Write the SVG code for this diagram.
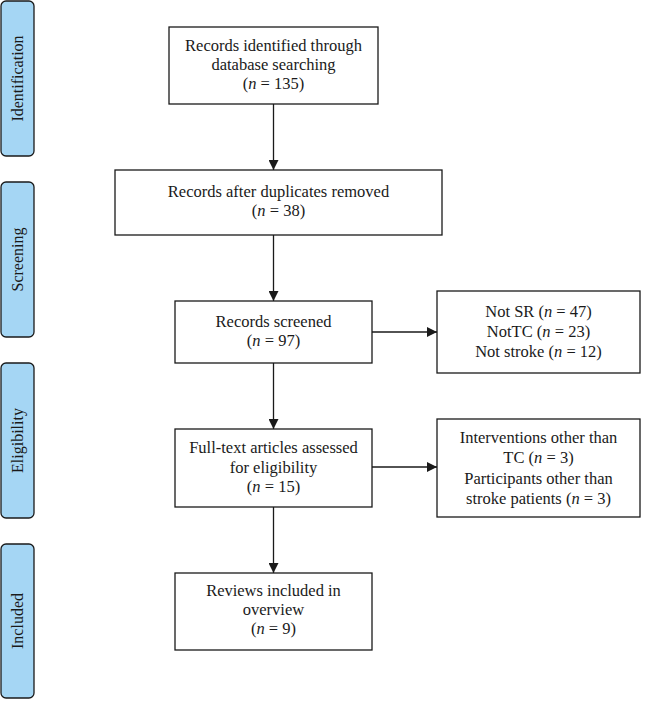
<svg xmlns="http://www.w3.org/2000/svg" width="656" height="702" viewBox="0 0 656 702">
<defs>
<style>
.side{fill:#a5d6f4;stroke:#1a1a1a;stroke-width:1.3}
.box{fill:#fff;stroke:#1a1a1a;stroke-width:1.3}
.t{font-family:"Liberation Serif","Times New Roman",serif;font-size:16.5px;fill:#1a1a1a;text-anchor:middle}
.s{font-family:"Liberation Serif","Times New Roman",serif;font-size:16px;fill:#1a1a1a;text-anchor:middle}
.c{stroke:#1a1a1a;stroke-width:1.3;fill:none;marker-end:url(#ah)}
</style>
<marker id="ah" markerWidth="10" markerHeight="10" refX="10" refY="5" orient="auto" markerUnits="userSpaceOnUse">
<path d="M0,0 L10,5 L0,10 Z" fill="#1a1a1a"/>
</marker>
</defs>
<rect width="656" height="702" fill="#fff"/>
<g id="phase-identification"><rect class="side" x="1" y="1" width="33" height="155" rx="5"/><text class="s" transform="translate(23,78.5) rotate(-90)">Identification</text></g>
<g id="phase-screening"><rect class="side" x="1" y="182" width="33" height="155" rx="5"/><text class="s" transform="translate(23,259.5) rotate(-90)">Screening</text></g>
<g id="phase-eligibility"><rect class="side" x="1" y="363" width="33" height="155" rx="5"/><text class="s" transform="translate(23,440.5) rotate(-90)">Eligibility</text></g>
<g id="phase-included"><rect class="side" x="1" y="544" width="33" height="154" rx="5"/><text class="s" transform="translate(23,621) rotate(-90)">Included</text></g>

<g id="connectors">
<line class="c" x1="273.5" y1="104" x2="273.5" y2="170"/>
<line class="c" x1="273.5" y1="235" x2="273.5" y2="301"/>
<line class="c" x1="273.5" y1="363" x2="273.5" y2="429"/>
<line class="c" x1="273.5" y1="507" x2="273.5" y2="573"/>
<line class="c" x1="372" y1="332" x2="437" y2="332"/>
<line class="c" x1="372" y1="467" x2="437" y2="467"/>
</g>

<g id="n1"><rect class="box" x="169" y="27" width="209" height="77"/>
<text class="t" x="273.5" y="51">Records identified through</text>
<text class="t" x="273.5" y="70">database searching</text>
<text class="t" x="273.5" y="89">(<tspan font-style="italic">n</tspan> = 135)</text></g>

<g id="n2"><rect class="box" x="115" y="170" width="327" height="65"/>
<text class="t" x="278.5" y="197">Records after duplicates removed</text>
<text class="t" x="278.5" y="216">(<tspan font-style="italic">n</tspan> = 38)</text></g>

<g id="n3"><rect class="box" x="175" y="301" width="197" height="62"/>
<text class="t" x="273.5" y="327">Records screened</text>
<text class="t" x="273.5" y="346">(<tspan font-style="italic">n</tspan> = 97)</text></g>

<g id="x1"><rect class="box" x="437" y="291" width="203" height="82"/>
<text class="t" x="538.5" y="317">Not SR (<tspan font-style="italic">n</tspan> = 47)</text>
<text class="t" x="538.5" y="337">NotTC (<tspan font-style="italic">n</tspan> = 23)</text>
<text class="t" x="538.5" y="357">Not stroke (<tspan font-style="italic">n</tspan> = 12)</text></g>

<g id="n4"><rect class="box" x="175" y="429" width="197" height="78"/>
<text class="t" x="273.5" y="453">Full-text articles assessed</text>
<text class="t" x="273.5" y="473">for eligibility</text>
<text class="t" x="273.5" y="492">(<tspan font-style="italic">n</tspan> = 15)</text></g>

<g id="x2"><rect class="box" x="437" y="419" width="203" height="98"/>
<text class="t" x="538.5" y="443">Interventions other than</text>
<text class="t" x="538.5" y="463">TC (<tspan font-style="italic">n</tspan> = 3)</text>
<text class="t" x="538.5" y="484">Participants other than</text>
<text class="t" x="538.5" y="504">stroke patients (<tspan font-style="italic">n</tspan> = 3)</text></g>

<g id="n5"><rect class="box" x="175" y="573" width="197" height="77"/>
<text class="t" x="273.5" y="596">Reviews included in</text>
<text class="t" x="273.5" y="615">overview</text>
<text class="t" x="273.5" y="634">(<tspan font-style="italic">n</tspan> = 9)</text></g>
</svg>
